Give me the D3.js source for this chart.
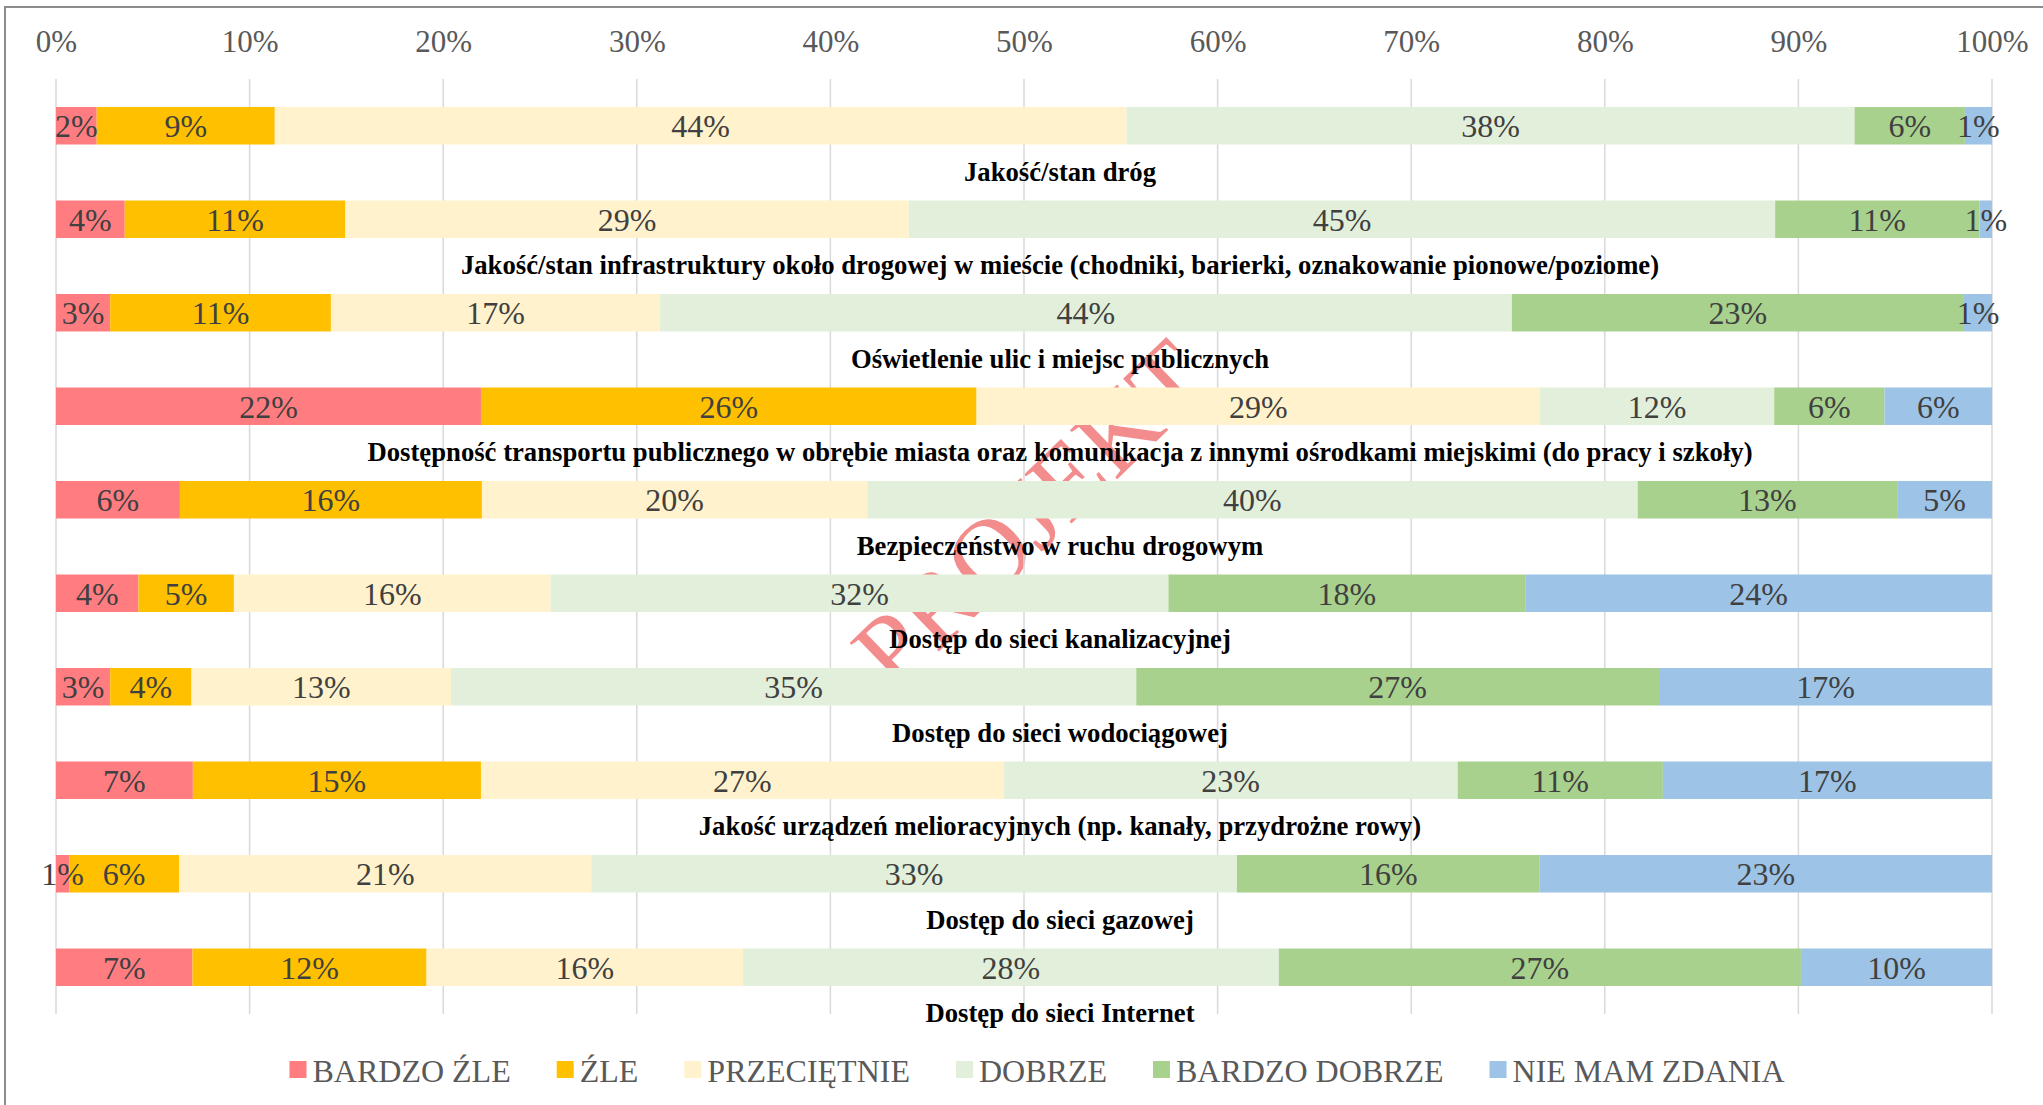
<!DOCTYPE html>
<html><head><meta charset="utf-8">
<script src="https://cdn.jsdelivr.net/npm/d3@7"></script>
<style>
html,body{margin:0;padding:0;background:#fff;}
svg{display:block;}
text{font-family:"Liberation Serif","Times New Roman",serif;}
</style></head>
<body><svg id="c" width="2043" height="1105"></svg>
<script>
const categories = [
  "Jakość/stan dróg",
  "Jakość/stan infrastruktury około drogowej w mieście (chodniki, barierki, oznakowanie pionowe/poziome)",
  "Oświetlenie ulic i miejsc publicznych",
  "Dostępność transportu publicznego w obrębie miasta oraz komunikacja z innymi ośrodkami miejskimi (do pracy i szkoły)",
  "Bezpieczeństwo w ruchu drogowym",
  "Dostęp do sieci kanalizacyjnej",
  "Dostęp do sieci wodociągowej",
  "Jakość urządzeń melioracyjnych (np. kanały, przydrożne rowy)",
  "Dostęp do sieci gazowej",
  "Dostęp do sieci Internet"
];
const seriesNames = ["BARDZO ŹLE","ŹLE","PRZECIĘTNIE","DOBRZE","BARDZO DOBRZE","NIE MAM ZDANIA"];
const seriesColors = ["#FF7C80","#FFC000","#FFF2CC","#E2EFDA","#A9D18E","#9DC3E6"];
const bardzoZle    = [2.1, 3.55, 2.8, 21.95, 6.4, 4.26, 2.8, 7.07, 0.68, 7.05];
const zle          = [9.2, 11.4, 11.4, 25.6, 15.6, 4.93, 4.2, 14.88, 5.68, 12.09];
const przecietnie  = [44.0, 29.1, 17.0, 29.1, 19.9, 16.36, 13.4, 27.0, 21.29, 16.35];
const dobrze       = [37.6, 44.75, 44.0, 12.1, 39.8, 31.91, 35.4, 23.45, 33.35, 27.67];
const bardzoDobrze = [5.7, 10.55, 23.35, 5.7, 13.4, 18.43, 27.0, 10.6, 15.64, 26.97];
const nieMamZdania = [1.4, 0.65, 1.45, 5.55, 4.9, 24.11, 17.2, 17.0, 23.36, 9.87];
const tickValues = [0,10,20,30,40,50,60,70,80,90,100];
const watermark = "PROJEKT";

const seriesData = [bardzoZle, zle, przecietnie, dobrze, bardzoDobrze, nieMamZdania];
const table = categories.map((c,i)=>{
  const row = {cat:c};
  seriesNames.forEach((s,j)=>row[s]=seriesData[j][i]);
  return row;
});

const svg = d3.select("#c");
const x = d3.scaleLinear().domain([0,100]).range([56,1992]);
const y = d3.scaleBand().domain(categories).range([107,986]).paddingInner(0.599).paddingOuter(0);
const color = d3.scaleOrdinal().domain(seriesNames).range(seriesColors);

// frame
svg.append("rect").attr("x",5).attr("y",7).attr("width",2200).attr("height",1300)
  .attr("fill","none").attr("stroke","#8c8c8c").attr("stroke-width",2);

// watermark (behind chart content)
svg.append("text").text(watermark)
  .attr("transform","translate(1030,514) rotate(-44)")
  .attr("text-anchor","middle").attr("dominant-baseline","central")
  .attr("font-size",104).attr("fill","#F27F7F").attr("fill-opacity",0.9);

// gridlines
svg.append("g").selectAll("line").data(tickValues).join("line")
  .attr("x1",d=>x(d)).attr("x2",d=>x(d)).attr("y1",79).attr("y2",1014)
  .attr("stroke","#d9d9d9").attr("stroke-width",1.5);

// axis labels
const ax = svg.append("g").attr("transform","translate(0,52)")
  .call(d3.axisTop(x).tickValues(tickValues).tickFormat(d=>d+"%").tickSize(0).tickPadding(0));
ax.select(".domain").remove();
ax.selectAll("text").attr("font-family","Liberation Serif").attr("font-size",31).attr("fill","#595959");

// bars
const stacked = d3.stack().keys(seriesNames)(table);
const layers = svg.append("g").selectAll("g").data(stacked).join("g").attr("fill",d=>color(d.key));
layers.selectAll("rect").data(d=>d).join("rect")
  .attr("x",d=>x(d[0])).attr("width",d=>x(d[1])-x(d[0]))
  .attr("y",d=>y(d.data.cat)).attr("height",y.bandwidth());

// data labels
const lab = svg.append("g");
stacked.forEach(s=>{
  lab.selectAll(null).data(s).join("text")
    .attr("x",d=>(x(d[0])+x(d[1]))/2)
    .attr("y",d=>y(d.data.cat)+y.bandwidth()/2)
    .attr("dy","0.36em").attr("text-anchor","middle")
    .attr("font-size",32).attr("fill","#404040")
    .text(d=>Math.round(d[1]-d[0])+"%");
});

// category labels
svg.append("g").selectAll("text").data(categories).join("text")
  .attr("x",1060).attr("y",d=>y(d)+y.bandwidth()/2+46.5).attr("dy","0.32em")
  .attr("text-anchor","middle").attr("font-weight","bold").attr("font-size",26.7).attr("fill","#000")
  .text(d=>d);

// legend
const leg = svg.append("g");
const items = leg.selectAll("g").data(seriesNames).join("g");
items.append("rect").attr("width",17).attr("height",17).attr("y",1061).attr("fill",d=>color(d));
items.append("text").attr("x",23).attr("y",1070).attr("dy","0.36em")
  .attr("font-size",32).attr("fill","#595959").text(d=>d);
let widths = [];
items.each(function(){ widths.push(this.getBBox().width); });
const gap = 46;
const total = d3.sum(widths) + gap*(widths.length-1);
let cx = 1037 - total/2;
items.attr("transform",(d,i)=>{ const t = "translate("+cx+",0)"; cx += widths[i]+gap; return t; });
</script></body></html>
